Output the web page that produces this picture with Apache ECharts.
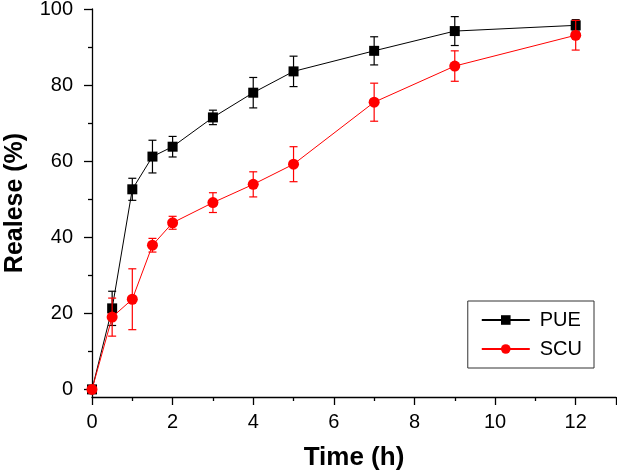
<!DOCTYPE html>
<html><head><meta charset="utf-8">
<script src="https://cdn.jsdelivr.net/npm/echarts@6/dist/echarts.min.js"></script>
<style>html,body{margin:0;padding:0;background:#fff}#c{width:617px;height:476px}</style>
</head><body><div id="c"></div>
<script>
const time = [0, 0.5, 1, 1.5, 2, 3, 4, 5, 7, 9, 12];
const pue = [0, 21.3, 52.6, 61.2, 63.8, 71.5, 78, 83.6, 89, 94.2, 95.7];
const pueErr = [0.5, 4.5, 2.9, 4.3, 2.7, 1.9, 4, 4, 3.7, 3.8, 1.5];
const scu = [0, 19, 23.7, 37.9, 43.8, 49.1, 53.9, 59.2, 75.5, 85, 93.1];
const scuErr = [0.5, 5, 8, 1.8, 1.7, 2.6, 3.3, 4.6, 5, 4, 3.9];
const xTicks = [0, 2, 4, 6, 8, 10, 12];
const yTicks = [0, 20, 40, 60, 80, 100];
const yMinorTicks = [10, 30, 50, 70, 90];

const chart = echarts.init(document.getElementById('c'), null, {renderer: 'canvas'});
function errSeries(name, vals, errs, color, z) {
  return {
    type: 'custom', name: name + ' err', z: z,
    data: time.map((t, i) => [t, vals[i] - errs[i], vals[i] + errs[i]]),
    renderItem: function (params, api) {
      const lo = api.coord([api.value(0), api.value(1)]);
      const hi = api.coord([api.value(0), api.value(2)]);
      const w = 4;
      const st = {stroke: color, lineWidth: 1.2};
      return {type: 'group', children: [
        {type: 'line', shape: {x1: lo[0], y1: lo[1], x2: hi[0], y2: hi[1]}, style: st},
        {type: 'line', shape: {x1: lo[0] - w, y1: lo[1], x2: lo[0] + w, y2: lo[1]}, style: st},
        {type: 'line', shape: {x1: hi[0] - w, y1: hi[1], x2: hi[0] + w, y2: hi[1]}, style: st}
      ]};
    },
    silent: true
  };
}
const fontFam = '"Liberation Sans", Arial, sans-serif';
const axisLineStyle = {color: '#000', width: 1.3};
chart.setOption({
  animation: false,
  grid: {left: 92, right: 1, top: 9, bottom: 79, containLabel: false, outerBoundsMode: 'none'},
  xAxis: {
    type: 'value', min: 0, max: 13, interval: 2,
    name: 'Time (h)', nameLocation: 'middle', nameGap: 48,
    nameTextStyle: {fontFamily: fontFam, fontSize: 26, fontWeight: 'bold', color: '#000'},
    axisLine: {show: true, onZero: false, lineStyle: axisLineStyle},
    axisTick: {show: true, inside: false, length: 8, lineStyle: axisLineStyle},
    minorTick: {show: true, splitNumber: 2, length: 4, lineStyle: axisLineStyle},
    axisLabel: {fontFamily: fontFam, fontSize: 20, color: '#000', margin: 15,
      formatter: v => xTicks.includes(v) ? String(v) : ''},
    splitLine: {show: false}
  },
  yAxis: [{
    type: 'value', min: -2, max: 100,
    name: 'Realese (%)', nameLocation: 'middle', nameGap: 64, nameRotate: 90,
    nameTextStyle: {fontFamily: fontFam, fontSize: 25, fontWeight: 'bold', color: '#000'},
    axisLine: {show: true, onZero: false, lineStyle: axisLineStyle},
    axisTick: {show: true, inside: false, length: 8, lineStyle: axisLineStyle,
      customValues: yTicks},
    minorTick: {show: false},
    axisLabel: {fontFamily: fontFam, fontSize: 20, color: '#000', margin: 19,
      customValues: yTicks},
    splitLine: {show: false}
  }, {
    type: 'value', min: -2, max: 100, position: 'left', offset: 0,
    axisLine: {show: false, onZero: false},
    axisTick: {show: true, inside: false, length: 4, lineStyle: axisLineStyle,
      customValues: yMinorTicks},
    axisLabel: {show: false},
    splitLine: {show: false}
  }],
  legend: {
    right: 23, top: 301, orient: 'vertical',
    data: ['PUE', 'SCU'],
    borderColor: '#333', borderWidth: 1, padding: [9, 12, 9, 13],
    itemWidth: 48, itemHeight: 12, itemGap: 9,
    textStyle: {fontFamily: fontFam, fontSize: 20, color: '#000', padding: [0, 0, 0, 5]}
  },
  series: [
    errSeries('PUE', pue, pueErr, '#000', 3),
    {
      name: 'PUE', type: 'line', z: 4,
      data: time.map((t, i) => [t, pue[i]]),
      symbol: 'rect', symbolSize: 10,
      itemStyle: {color: '#000'}, lineStyle: {color: '#000', width: 1}
    },
    errSeries('SCU', scu, scuErr, '#ff0000', 5),
    {
      name: 'SCU', type: 'line', z: 6,
      data: time.map((t, i) => [t, scu[i]]),
      symbol: 'circle', symbolSize: 11,
      itemStyle: {color: '#ff0000'}, lineStyle: {color: '#ff0000', width: 1}
    }
  ]
});
</script></body></html>
